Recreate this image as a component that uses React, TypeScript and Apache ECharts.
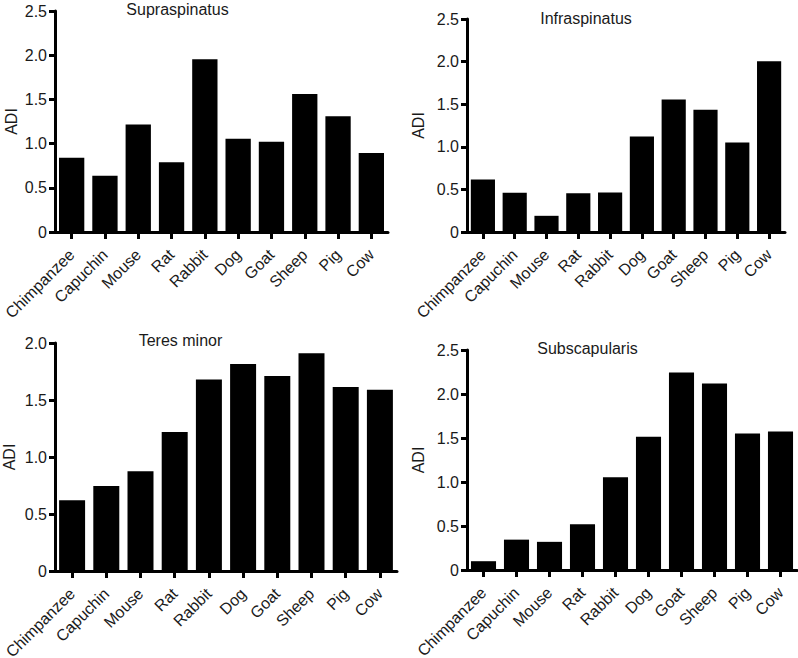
import React, { useEffect, useRef } from "react";
import * as echarts from "echarts";

const categories = ["Chimpanzee", "Capuchin", "Mouse", "Rat", "Rabbit", "Dog", "Goat", "Sheep", "Pig", "Cow"];
const supraspinatus = [0.84, 0.635, 1.215, 0.79, 1.955, 1.055, 1.02, 1.56, 1.31, 0.895];
const infraspinatus = [0.615, 0.46, 0.19, 0.455, 0.465, 1.12, 1.555, 1.435, 1.05, 2.005];
const teresMinor = [0.62, 0.745, 0.875, 1.22, 1.68, 1.815, 1.71, 1.91, 1.615, 1.59];
const subscapularis = [0.1, 0.345, 0.32, 0.52, 1.055, 1.515, 2.245, 2.12, 1.55, 1.575];
const panelTitles = ["Supraspinatus", "Infraspinatus", "Teres minor", "Subscapularis"];
const yMax = [2.5, 2.5, 2.0, 2.5];
const yName = "ADI";

const FONT = '"Liberation Sans", Arial, Helvetica, sans-serif';
const TXT = "#1a1a1a";

export default function App() {
  const ref = useRef<HTMLDivElement>(null);
  useEffect(() => {
    if (!ref.current) return;
    const chart = echarts.init(ref.current, null, { renderer: "svg" });
    const series = [supraspinatus, infraspinatus, teresMinor, subscapularis];
    const grids = [
      { left: 55, top: 11, width: 333, height: 221 },
      { left: 467, top: 19, width: 318, height: 213 },
      { left: 55, top: 343, width: 342, height: 228 },
      { left: 467, top: 350, width: 330, height: 220 },
    ];
    const nameGaps = [36, 41, 38, 41];
    const titlePos = [
      [177.5, 9],
      [586, 18.5],
      [180.5, 340.5],
      [587.5, 348],
    ];
    const option: any = {
      animation: false,
      backgroundColor: "#ffffff",
      textStyle: { fontFamily: FONT },
      grid: grids.map((g) => ({ ...g, containLabel: false, outerBoundsMode: "none" })),
      xAxis: grids.map((_, i) => ({
        type: "category",
        gridIndex: i,
        position: "bottom",
        data: categories,
        boundaryGap: true,
        axisLine: { show: true, onZero: false, lineStyle: { color: "#000", width: 3 } },
        axisTick: { show: true, alignWithLabel: true, length: 7, lineStyle: { color: "#000", width: 3 } },
        axisLabel: {
          show: true,
          rotate: 45,
          interval: 0,
          fontSize: 16,
          fontFamily: FONT,
          color: TXT,
          margin: 20,
        },
        splitLine: { show: false },
      })),
      yAxis: grids.map((_, i) => ({
        type: "value",
        gridIndex: i,
        position: "left",
        offset: 0,
        min: 0,
        max: yMax[i],
        interval: 0.5,
        name: yName,
        nameLocation: "middle",
        nameGap: nameGaps[i],
        nameTextStyle: { fontSize: 16, fontFamily: FONT, color: TXT },
        axisLine: { show: true, onZero: false, lineStyle: { color: "#000", width: 3 } },
        axisTick: { show: true, length: 6, lineStyle: { color: "#000", width: 3 } },
        axisLabel: {
          fontSize: 16,
          fontFamily: FONT,
          color: TXT,
          margin: 8,
          formatter: (v: number) => (v === 0 ? "0" : v.toFixed(1)),
        },
        splitLine: { show: false },
      })),
      series: series.map((d, i) => ({
        type: "bar",
        xAxisIndex: i,
        yAxisIndex: i,
        data: d,
        barCategoryGap: "24%",
        itemStyle: { color: "#000" },
      })),
      graphic: panelTitles.map((t, i) => ({
        type: "text",
        x: titlePos[i][0],
        y: titlePos[i][1],
        style: {
          text: t,
          font: `16px ${FONT}`,
          fill: TXT,
          align: "center",
          verticalAlign: "middle",
          textAlign: "center",
          textVerticalAlign: "middle",
        },
      })),
    };
    chart.setOption(option);
    return () => chart.dispose();
  }, []);
  return <div ref={ref} style={{ position: "fixed", left: 0, top: 0, width: 798, height: 658 }} />;
}
